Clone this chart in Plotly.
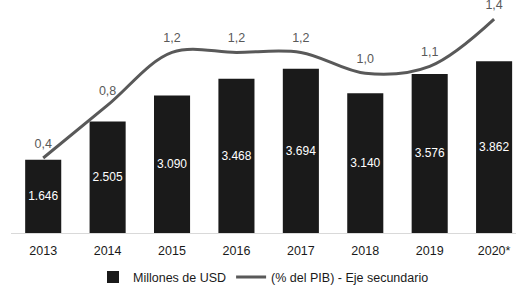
import plotly.graph_objects as go

years = ["2013", "2014", "2015", "2016", "2017", "2018", "2019", "2020*"]
usd_millions = [1646, 2505, 3090, 3468, 3694, 3140, 3576, 3862]
pct_gdp = [0.40, 0.78, 1.16, 1.16, 1.16, 1.01, 1.06, 1.40]

bar_labels = [f"{v:,}".replace(",", ".") for v in usd_millions]
line_labels = [f"{v:.1f}".replace(".", ",") for v in pct_gdp]

FONT = "Liberation Sans, Arial, sans-serif"
FS = 12.5

fig = go.Figure()
fig.add_trace(go.Bar(
    x=years, y=usd_millions, name="Millones de USD",
    marker=dict(color="#1a1a1a", line=dict(width=0)),
    width=0.56,
    text=bar_labels, textposition="inside", insidetextanchor="middle",
    textangle=0, textfont=dict(color="white", size=FS, family=FONT),
    cliponaxis=False,
))
fig.add_trace(go.Scatter(
    x=years, y=pct_gdp, name="(% del PIB) - Eje secundario", yaxis="y2",
    mode="lines+markers+text",
    line=dict(color="#595959", width=3, shape="spline", smoothing=1),
    marker=dict(size=10, opacity=0, color="rgba(0,0,0,0)",
                line=dict(width=0)),
    text=line_labels, textposition="top center",
    textfont=dict(color="#595959", size=FS, family=FONT),
    cliponaxis=False,
))

fig.update_layout(
    width=516, height=286,
    margin=dict(l=11, r=0, t=11, b=53, autoexpand=False),
    paper_bgcolor="white", plot_bgcolor="white",
    font=dict(family=FONT, size=FS, color="#1a1a1a"),
    xaxis=dict(range=[-0.5, 7.34], showgrid=False, showline=True,
               linecolor="#d9d9d9", linewidth=1, ticks="",
               ticklabelstandoff=6,
               tickfont=dict(size=FS, color="#1a1a1a")),
    yaxis=dict(range=[0, 4990], showgrid=False, showticklabels=False,
               zeroline=False, showline=False, ticks=""),
    yaxis2=dict(range=[-0.14, 1.458], overlaying="y", side="right",
                showgrid=False, showticklabels=False, zeroline=False,
                showline=False, ticks=""),
    showlegend=True,
    legend=dict(orientation="h", x=0.5, xanchor="center", y=-0.2,
                yanchor="middle", font=dict(size=FS, color="#1a1a1a"),
                bgcolor="rgba(0,0,0,0)"),
)

fig.write_html("out.html",
               config={"displayModeBar": False},
               post_script="document.body.style.margin='0px';")
